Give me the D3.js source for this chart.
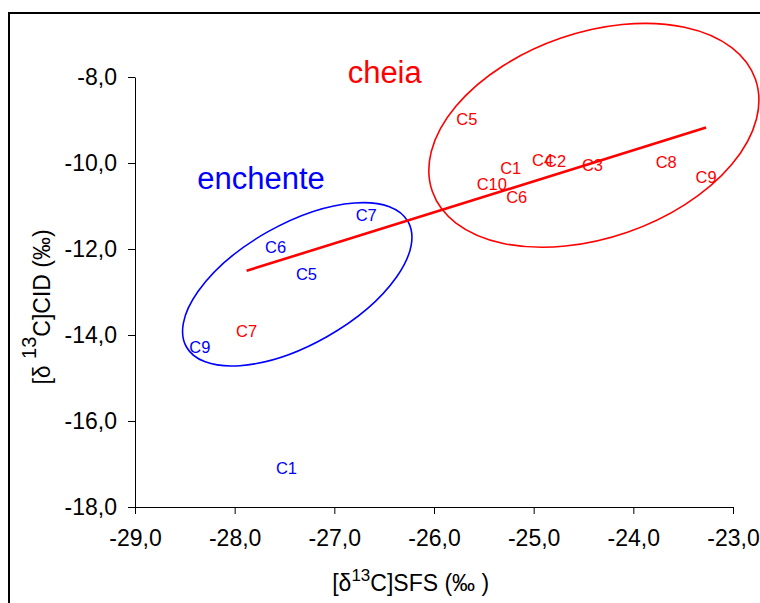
<!DOCTYPE html>
<html>
<head>
<meta charset="utf-8">
<script src="https://cdn.jsdelivr.net/npm/d3@7"></script>
<style>
  html, body { margin: 0; padding: 0; background: #fff; }
  svg { display: block; font-family: Arial, "Liberation Sans", sans-serif; }
</style>
</head>
<body>
<svg id="chart" width="760" height="603"></svg>
<script>
// ---- data ----
const cheiaLabels = ["C1", "C2", "C3", "C4", "C5", "C6", "C7", "C8", "C9", "C10"];
const cheiaX = [-25.23, -24.78, -24.41, -24.91, -25.67, -25.17, -27.88, -23.67, -23.27, -25.42];
const cheiaY = [-10.12, -9.95, -10.05, -9.94, -8.98, -10.80, -13.91, -9.97, -10.33, -10.50];

const enchenteLabels = ["C1", "C5", "C6", "C7", "C9"];
const enchenteX = [-27.48, -27.28, -27.59, -26.68, -28.35];
const enchenteY = [-17.09, -12.59, -11.95, -11.20, -14.28];

const xTicks = [-29, -28, -27, -26, -25, -24, -23];
const yTicks = [-18, -16, -14, -12, -10, -8];

// group annotations (ellipse centres in data units)
const groupNames = ["cheia", "enchente"];
const groupCentreX = [-24.396, -27.372];
const groupCentreY = [-9.356, -12.821];

// ---- layout ----
const svg = d3.select("#chart");
const x = d3.scaleLinear().domain([-29, -23]).range([135, 733]);
const y = d3.scaleLinear().domain([-18, -8]).range([507, 77]);
const RED = "#FF0000", BLUE = "#0000FF";

const loc = d3.formatLocale({decimal: ",", thousands: ".", grouping: [3], currency: ["", ""], minus: "-"});
const fmt = loc.format(".1f");

// outer frame
svg.append("rect").attr("x", 9).attr("y", 13).attr("width", 900).attr("height", 800)
  .attr("fill", "none").attr("stroke", "#000").attr("stroke-width", 2);

// axes
const gx = svg.append("g").attr("transform", `translate(0,${y(-18)})`)
  .call(d3.axisBottom(x).tickValues(xTicks).tickFormat(fmt).tickSize(7).tickSizeOuter(0).tickPadding(16));
const gy = svg.append("g").attr("transform", `translate(${x(-29)},0)`)
  .call(d3.axisLeft(y).tickValues(yTicks).tickFormat(fmt).tickSize(7).tickSizeOuter(0).tickPadding(11));
[gx, gy].forEach(g => {
  g.selectAll("path, line").attr("stroke", "#000").attr("stroke-width", 1);
  g.selectAll("text").attr("font-size", 23).attr("fill", "#000")
    .attr("font-family", "Arial, 'Liberation Sans', sans-serif");
});

// ellipses
const ellipseSpec = [
  {cx: groupCentreX[0], cy: groupCentreY[0], rx: 171, ry: 102.6, angle: -19.1, color: RED},
  {cx: groupCentreX[1], cy: groupCentreY[1], rx: 127.3, ry: 60.2, angle: -29.5, color: BLUE}
];
svg.append("g").selectAll("ellipse").data(ellipseSpec).join("ellipse")
  .attr("transform", d => `translate(${x(d.cx)},${y(d.cy)}) rotate(${d.angle})`)
  .attr("rx", d => d.rx).attr("ry", d => d.ry)
  .attr("fill", "none").attr("stroke", d => d.color).attr("stroke-width", 1.6);

// linear trend line for "cheia"
const mx = d3.mean(cheiaX), my = d3.mean(cheiaY);
const sxy = d3.sum(cheiaX, (v, i) => (v - mx) * (cheiaY[i] - my));
const sxx = d3.sum(cheiaX, v => (v - mx) * (v - mx));
const slope = sxy / sxx, icpt = my - slope * mx;
const [x0, x1] = d3.extent(cheiaX);
svg.append("line")
  .attr("x1", x(x0)).attr("y1", y(slope * x0 + icpt))
  .attr("x2", x(x1)).attr("y2", y(slope * x1 + icpt))
  .attr("stroke", RED).attr("stroke-width", 2.6);

// point labels
function drawLabels(labels, xs, ys, color) {
  svg.append("g").selectAll("text").data(labels).join("text")
    .attr("x", (d, i) => x(xs[i])).attr("y", (d, i) => y(ys[i]))
    .attr("dy", "0.36em").attr("text-anchor", "middle")
    .attr("font-size", 16.5).attr("fill", color).text(d => d);
}
drawLabels(enchenteLabels, enchenteX, enchenteY, BLUE);
drawLabels(cheiaLabels, cheiaX, cheiaY, RED);

// group titles
svg.append("text").attr("x", 384.7).attr("y", 82.7).attr("text-anchor", "middle")
  .attr("font-size", 31).attr("fill", RED).text(groupNames[0]);
svg.append("text").attr("x", 261).attr("y", 189.3).attr("text-anchor", "middle")
  .attr("font-size", 31).attr("fill", BLUE).text(groupNames[1]);

// axis titles
const xt = svg.append("text").attr("x", 410.7).attr("y", 591).attr("text-anchor", "middle")
  .attr("font-size", 23).attr("fill", "#000");
xt.append("tspan").text("[δ");
xt.append("tspan").attr("font-size", 17).attr("dy", -10).text("13");
xt.append("tspan").attr("dy", 10).text("C]SFS (‰ )");

const yt = svg.append("text").attr("transform", "translate(50,307) rotate(-90)")
  .attr("text-anchor", "middle").attr("font-size", 23).attr("fill", "#000");
yt.append("tspan").text("[δ ");
yt.append("tspan").attr("font-size", 20).attr("dy", -14).text("13");
yt.append("tspan").attr("dy", 14).text("C]CID (‰)");
</script>
</body>
</html>
